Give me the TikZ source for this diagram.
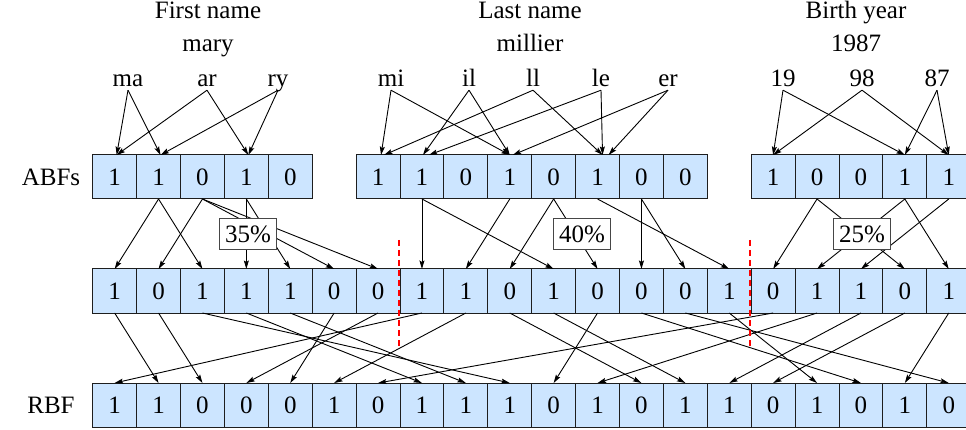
\documentclass[tikz,border=0pt]{standalone}
\usepackage{fontspec}
\setmainfont{Liberation Serif}
\usetikzlibrary{arrows.meta}
\definecolor{cellfill}{RGB}{204,229,255}
\definecolor{cellline}{RGB}{30,30,30}
\definecolor{boxline}{RGB}{70,70,70}
\definecolor{cutred}{RGB}{255,0,0}
\begin{document}
\begin{tikzpicture}[x=1pt,y=-1pt,
  font=\fontsize{25}{30}\selectfont,
  cell/.style={draw=cellline, line width=1pt, fill=cellfill, minimum width=43.9pt,
    minimum height=44pt, inner sep=0pt, outer sep=0pt},
  gram/.style={inner sep=0pt, text depth=3pt, anchor=base},
  title/.style={inner sep=0pt, anchor=base},
  link/.style={line width=0.9pt, -{Stealth[length=8.5pt,width=5pt,inset=1.5pt]}},
  share/.style={draw=boxline, line width=1.2pt, fill=white, minimum width=57pt,
    minimum height=31pt, inner sep=0pt},
  cut/.style={draw=cutred, line width=2.5pt, dash pattern=on 6pt off 4pt},
]
\useasboundingbox (0,0) rectangle (966,430);
\clip (0,0) rectangle (966,430);

% attribute-level Bloom filters
\foreach \v [count=\i from 0] in {1,1,0,1,0}
  \node[cell] (a1-\i) at ({114.65+43.9*\i},177) {\v};
\foreach \v [count=\i from 0] in {1,1,0,1,0,1,0,0}
  \node[cell] (a2-\i) at ({114.65+43.9*(\i+6)},177) {\v};
\foreach \v [count=\i from 0] in {1,0,0,1,1}
  \node[cell] (a3-\i) at ({114.65+43.9*(\i+15)},177) {\v};

% sampled bits
\foreach \v [count=\i from 0] in {1,0,1,1,1,0,0,1,1,0,1,0,0,0,1,0,1,1,0,1}
  \node[cell] (m\i) at ({114.65+43.9*\i},291) {\v};

% record-level Bloom filter
\foreach \v [count=\i from 0] in {1,1,0,0,0,1,0,1,1,1,0,1,0,1,1,0,1,0,1,0}
  \node[cell] (b\i) at ({114.65+43.9*\i},405) {\v};

% row labels
\node (abf) at (51,177) {ABFs};
\node (rbf) at (51,405) {RBF};

% attribute names and values
\node[title] (t1) at (208,19) {First name};
\node[title] (v1) at (208,52) {mary};
\node[title] (t2) at (530,19) {Last name};
\node[title] (v2) at (530,52) {millier};
\node[title] (t3) at (856,19) {Birth year};
\node[title] (v3) at (856,52) {1987};

% bigrams
\node[gram] (g-ma) at (128,87) {ma};
\node[gram] (g-ar) at (207,87) {ar};
\node[gram] (g-ry) at (278,87) {ry};
\node[gram] (g-mi) at (391,87) {mi};
\node[gram] (g-il) at (469,87) {il};
\node[gram] (g-ll) at (533,87) {ll};
\node[gram] (g-le) at (601,87) {le};
\node[gram] (g-er) at (668,87) {er};
\node[gram] (g-19) at (783,87) {19};
\node[gram] (g-98) at (862,87) {98};
\node[gram] (g-87) at (937,87) {87};

% hashing bigrams into the ABFs
\draw[link] (g-ma.south) -- ([xshift=2pt]a1-0.north);
\draw[link] (g-ma.south) -- ([xshift=2pt]a1-1.north);
\draw[link] (g-ar.south) -- ([xshift=2pt]a1-0.north);
\draw[link] (g-ar.south) -- ([xshift=2pt]a1-3.north);
\draw[link] (g-ry.south) -- ([xshift=2pt]a1-1.north);
\draw[link] (g-ry.south) -- ([xshift=2pt]a1-3.north);

\draw[link] (g-mi.south) -- ([xshift=3pt]a2-0.north);
\draw[link] (g-mi.south) -- ([xshift=0pt]a2-3.north);
\draw[link] (g-il.south) -- ([xshift=1pt]a2-1.north);
\draw[link] (g-il.south) -- ([xshift=0pt]a2-3.north);
\draw[link] (g-ll.south) -- ([xshift=6pt]a2-0.north);
\draw[link] (g-ll.south) -- ([xshift=5pt]a2-5.north);
\draw[link] (g-le.south) -- ([xshift=7pt]a2-1.north);
\draw[link] (g-le.south) -- ([xshift=5pt]a2-5.north);
\draw[link] (g-er.south) -- ([xshift=3pt]a2-3.north);
\draw[link] (g-er.south) -- ([xshift=11pt]a2-5.north);

\draw[link] (g-19.south) -- (a3-0.north);
\draw[link] (g-19.south) -- (a3-3.north);
\draw[link] (g-98.south) -- (a3-0.north);
\draw[link] (g-98.south) -- (a3-4.north);
\draw[link] (g-87.south) -- (a3-3.north);
\draw[link] (g-87.south) -- (a3-4.north);

% sampling bits from each ABF
\foreach \s/\t in {1/0,1/2,2/1,2/5,2/6,3/3,3/4}
  \draw[link] (a1-\s.south) -- (m\t.north);
\foreach \s/\t in {1/7,1/10,3/8,4/9,4/11,5/14,6/12,6/13}
  \draw[link] (a2-\s.south) -- (m\t.north);
\foreach \s/\t in {1/15,1/18,3/16,3/19,4/17}
  \draw[link] (a3-\s.south) -- (m\t.north);

% permutation into the RBF
\foreach \s/\t in {7/0,0/1,1/2,6/3,5/4,8/5,15/6,3/7,4/8,2/9,11/10,16/11,9/12,10/13,17/14,18/15,14/16,12/17,19/18,13/19}
  \draw[link] (m\s.south) -- (b\t.north);

% sampling weights
\node[share] (p1) at (248,234) {35\%};
\node[share] (p2) at (582,234) {40\%};
\node[share] (p3) at (862,234) {25\%};

% boundaries between the sampled blocks
\draw[cut] (399,240) -- (399,348);
\draw[cut] (750,240) -- (750,348);
\end{tikzpicture}
\end{document}
